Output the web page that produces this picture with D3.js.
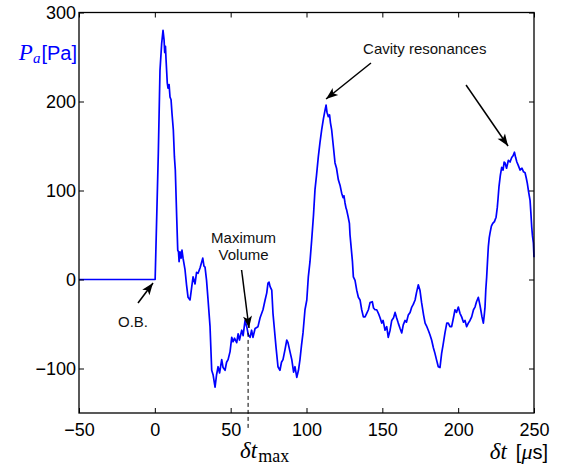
<!DOCTYPE html>
<html><head><meta charset="utf-8">
<script src="https://cdn.jsdelivr.net/npm/d3@7"></script>
<style>
html,body{margin:0;padding:0;background:#fff;}
svg{display:block;}
</style></head>
<body>
<script>
// ---- data (time in microseconds, pressure in Pa) ----
const pressureTrace = [
[-50,0],[0,0],[0.2,0],[2.3,142],[3.4,235],[4.5,265],[5.4,280],[6.1,269],[6.5,255],[7.0,262],[7.4,247],[8.2,221],[8.7,215],[9.4,219],[10.0,205],[10.7,202],[11.3,187],[12.2,168],[12.9,138],[13.5,123],[14.4,71],[15.1,33],[15.6,31],[16.0,20],[16.6,31],[17.3,24],[17.9,33],[18.6,24],[19.9,11],[20.9,-6],[21.9,-20],[23.2,-23],[23.9,-14],[25.2,3],[26.5,-5],[27.5,8],[28.5,7],[29.8,13],[31.6,24],[32.4,15],[33.1,14],[34.1,-1],[35.1,-23],[36.4,-53],[37.5,-102],[38.4,-107],[39.7,-121],[40.7,-107],[41.7,-98],[42.7,-105],[44.1,-90],[45.0,-99],[46.3,-102],[47.3,-93],[48.3,-90],[49.6,-81],[50.7,-65],[51.6,-70],[52.5,-66],[54.0,-71],[54.9,-61],[55.8,-68],[57.3,-57],[58.2,-63],[59.5,-46],[60.6,-53],[61.6,-62],[62.8,-65],[63.8,-57],[64.7,-65],[66.1,-55],[68.0,-53],[69.4,-43],[71.3,-34],[72.7,-23],[73.8,-15],[74.6,-4],[75.3,-3],[76.0,-8],[77.1,-12],[77.9,-38],[78.9,-57],[79.9,-76],[81.2,-98],[82.5,-102],[83.5,-93],[84.5,-90],[85.8,-79],[87.0,-68],[87.8,-71],[89.1,-81],[90.3,-90],[91.5,-104],[92.4,-98],[93.6,-110],[94.7,-102],[95.7,-90],[96.7,-74],[97.7,-60],[99.0,-34],[100.2,-23],[101.2,3],[102.3,20],[103.4,44],[104.6,72],[105.6,101],[106.6,117],[107.8,138],[108.9,154],[110.0,168],[111.2,181],[112.2,190],[112.9,196],[113.5,188],[114.4,183],[115.2,185],[115.8,176],[116.6,168],[117.8,148],[118.8,131],[119.8,125],[121.0,112],[122.1,106],[123.2,97],[124.1,92],[124.7,94],[125.4,86],[126.1,80],[126.5,78],[127.4,71],[128.3,63],[128.7,50],[129.4,37],[130.3,20],[130.9,3],[132.0,-1],[133.1,-12],[134.2,-20],[135.3,-23],[136.4,-34],[137.5,-42],[138.6,-42],[139.7,-38],[140.8,-34],[141.9,-26],[143.4,-25],[144.2,-32],[145.2,-34],[146.3,-34],[147.4,-38],[148.5,-43],[149.6,-49],[150.5,-46],[151.8,-57],[152.9,-53],[153.9,-65],[155.1,-57],[156.2,-46],[157.4,-43],[158.4,-37],[159.4,-43],[160.5,-49],[161.7,-55],[162.8,-60],[163.8,-51],[165.0,-46],[165.9,-48],[167.1,-40],[168.3,-37],[169.4,-31],[170.4,-28],[171.6,-23],[172.5,-15],[173.7,-6],[174.8,-12],[175.9,-26],[177.2,-40],[178.2,-49],[179.1,-52],[180.3,-57],[181.4,-62],[182.5,-68],[183.7,-77],[184.7,-83],[185.7,-90],[186.9,-98],[188.0,-99],[189.1,-83],[190.0,-74],[191.3,-60],[192.5,-49],[193.5,-49],[194.6,-53],[195.7,-53],[196.9,-43],[197.9,-34],[198.9,-37],[200.1,-31],[201.2,-38],[202.3,-42],[203.5,-48],[204.5,-46],[205.6,-53],[206.7,-49],[207.8,-46],[208.9,-42],[210.1,-34],[211.1,-31],[212.1,-25],[213.3,-20],[214.4,-29],[214.9,-34],[215.7,-42],[216.6,-49],[217.2,-40],[217.7,-31],[218.2,-12],[218.8,3],[219.4,22],[219.9,37],[220.5,47],[221.0,52],[221.9,60],[222.8,63],[223.9,65],[225.0,70],[225.8,81],[226.3,91],[226.9,104],[227.8,117],[228.7,126],[229.6,123],[230.3,132],[230.9,131],[231.9,125],[233.1,134],[234.2,132],[235.3,137],[236.2,139],[237.1,143],[237.9,137],[238.7,132],[239.7,128],[240.8,123],[242.1,125],[243.1,121],[244.1,120],[244.9,114],[245.6,108],[246.5,98],[247.4,89],[247.9,76],[248.5,59],[249.0,49],[249.6,41],[250,25]
];
const xTicks = [-50, 0, 50, 100, 150, 200, 250];
const yTicks = [-100, 0, 100, 200, 300];
const xDomain = [-50, 250];
const yDomain = [-150, 300];
const dtMax = 61.5;
// annotations: [tailX, tailY, headX, headY] in data units
const arrows = [
  [-11.1, -26.4, -1.2, -3.9],
  [57.2, 10.7, 62.1, -54.5],
  [142.5, 243.3, 112.9, 202.8],
  [205.2, 218.5, 232.9, 150.0]
];
const notes = [
  {lines: ["O.B."], x: -14.4, y: -53, anchor: "middle"},
  {lines: ["Maximum", "Volume"], x: 58.5, y: 41.5, anchor: "middle"},
  {lines: ["Cavity resonances"], x: 137.3, y: 253.4, anchor: "start"}
];

// ---- drawing ----
const W = 565, H = 466;
const svg = d3.select("body").append("svg").attr("width", W).attr("height", H);
const x = d3.scaleLinear().domain(xDomain).range([79, 534]);
const y = d3.scaleLinear().domain(yDomain).range([413, 12.5]);
const sans = "'Liberation Sans', Arial, Helvetica, sans-serif";
const serif = "'Liberation Serif', 'DejaVu Serif', serif";

svg.append("defs").append("marker")
  .attr("id", "ah").attr("markerUnits", "userSpaceOnUse")
  .attr("viewBox", "-13 -6 15 12").attr("refX", 0).attr("refY", 0)
  .attr("markerWidth", 15).attr("markerHeight", 12).attr("orient", "auto")
  .append("path").attr("d", "M0,0 L-12,-4.5 L-9,0 L-12,4.5 Z").attr("fill", "#000");

// data line
svg.append("path").datum(pressureTrace)
  .attr("fill", "none").attr("stroke", "#0000ff").attr("stroke-width", 1.7)
  .attr("stroke-linejoin", "round")
  .attr("d", d3.line().x(d => x(d[0])).y(d => y(d[1])));

// axes
function styleAxis(g) {
  g.select(".domain").remove();
  g.selectAll(".tick line").attr("stroke", "#000").attr("stroke-width", 1);
  g.selectAll("text").attr("font-family", sans).attr("font-size", 18).attr("fill", "#000");
}
const fmt = d => d < 0 ? "\u2212" + Math.abs(d) : String(d);
svg.append("g").attr("transform", "translate(0,413)")
  .call(d3.axisBottom(x).tickValues(xTicks).tickFormat(fmt).tickSizeInner(-5).tickSizeOuter(0).tickPadding(10))
  .call(styleAxis);
svg.append("g").attr("transform", "translate(0,12.5)")
  .call(d3.axisTop(x).tickValues(xTicks).tickFormat("").tickSizeInner(-5).tickSizeOuter(0))
  .call(styleAxis);
svg.append("g").attr("transform", "translate(79,0)")
  .call(d3.axisLeft(y).tickValues(yTicks).tickFormat(fmt).tickSizeInner(-5).tickSizeOuter(0).tickPadding(3))
  .call(styleAxis);
svg.append("g").attr("transform", "translate(534,0)")
  .call(d3.axisRight(y).tickValues(yTicks).tickFormat("").tickSizeInner(-5).tickSizeOuter(0))
  .call(styleAxis);
svg.append("rect").attr("x", 79).attr("y", 12.5).attr("width", 455).attr("height", 400.5)
  .attr("fill", "none").attr("stroke", "#000").attr("stroke-width", 1.3);

// dashed delta t max line
svg.append("line")
  .attr("x1", x(dtMax)).attr("x2", x(dtMax))
  .attr("y1", y(-60)).attr("y2", y(-150) + 16)
  .attr("stroke", "#000").attr("stroke-width", 1).attr("stroke-dasharray", "4,3");

// arrows
svg.selectAll("line.arrow").data(arrows).enter().append("line").attr("class", "arrow")
  .attr("x1", d => x(d[0])).attr("y1", d => y(d[1]))
  .attr("x2", d => x(d[2])).attr("y2", d => y(d[3]))
  .attr("stroke", "#000").attr("stroke-width", 1.5).attr("marker-end", "url(#ah)");

// notes
notes.forEach(n => {
  const t = svg.append("text").attr("x", x(n.x)).attr("y", y(n.y))
    .attr("text-anchor", n.anchor).attr("font-family", sans).attr("font-size", 15).attr("fill", "#111");
  n.lines.forEach((l, i) => t.append("tspan").attr("x", x(n.x)).attr("dy", i ? 17 : 0).text(l));
});

// y label
const yl = svg.append("text").attr("x", 77).attr("y", 60).attr("text-anchor", "end").attr("fill", "#0000ff");
yl.append("tspan").attr("font-family", serif).attr("font-style", "italic").attr("font-size", 23).text("P");
yl.append("tspan").attr("font-family", serif).attr("font-style", "italic").attr("font-size", 15).attr("dy", 3).text("a");
yl.append("tspan").attr("font-family", sans).attr("font-size", 20).attr("dy", -3).attr("dx", 1).text("[Pa]");

// x labels
const xl = svg.append("text").attr("x", 548).attr("y", 459).attr("text-anchor", "end").attr("fill", "#000");
xl.append("tspan").attr("font-family", serif).attr("font-style", "italic").attr("font-size", 23).text("\u03B4t");
xl.append("tspan").attr("font-family", sans).attr("font-size", 20).attr("dx", 9).text("[");
xl.append("tspan").attr("font-family", serif).attr("font-style", "italic").attr("font-size", 22).text("\u03BC");
xl.append("tspan").attr("font-family", sans).attr("font-size", 20).text("s]");

const ml = svg.append("text").attr("x", x(dtMax) - 8).attr("y", 458).attr("text-anchor", "start").attr("fill", "#000");
ml.append("tspan").attr("font-family", serif).attr("font-style", "italic").attr("font-size", 23).text("\u03B4t");
ml.append("tspan").attr("font-family", serif).attr("font-size", 18).attr("dy", 4).attr("dx", 1).text("max");
</script>
</body></html>
